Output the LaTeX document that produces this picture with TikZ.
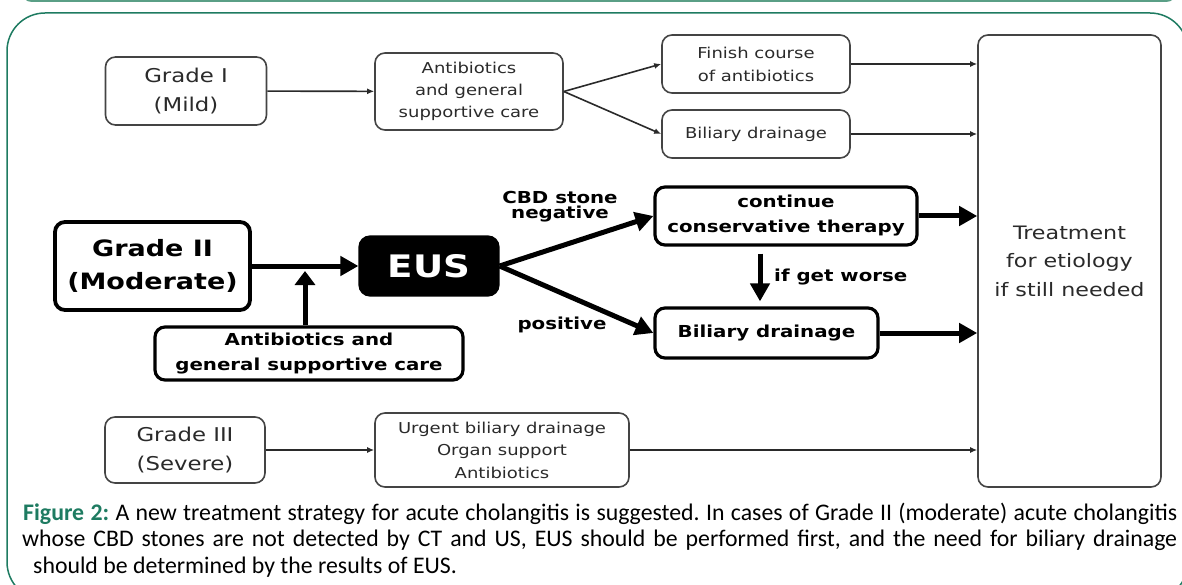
\documentclass[tikz,border=0pt]{standalone}
\usepackage{fontspec}
\usepackage{xcolor}
\usepackage{tikz}
\usetikzlibrary{arrows.meta, calc}
\newfontfamily\diagfont[FakeStretch=1.2]{DejaVu Sans}
\newfontfamily\capfont{Carlito}
\definecolor{framegreen}{HTML}{1E7B61}
\definecolor{bandfill}{HTML}{E4ECE8}
\definecolor{bandline}{HTML}{5A9F86}
\definecolor{boxgray}{HTML}{444444}
\definecolor{textgray}{HTML}{2A2A2A}
\frenchspacing

\tikzset{
  thinbox/.style={draw=boxgray, line width=1.6pt, rounded corners=10pt, align=center,
    inner sep=0pt, text=textgray},
  boldbox/.style={draw=black, line width=3.2pt, rounded corners=10pt, align=center,
    inner sep=0pt, text=black},
  thinarrow/.style={draw=textgray, line width=1.6pt, -{Latex[length=7pt,width=6pt]}},
  boldarrow/.style={draw=black, line width=5pt, -{Triangle[length=18pt,width=19pt]}},
  edgelabel/.style={inner sep=0pt, align=center,
    font=\diagfont\bfseries\fontsize{16.5}{15}\selectfont}
}

\begin{document}
\begin{tikzpicture}[x=1pt, y=-1pt]
    \useasboundingbox (0,0) rectangle (1182,585);
    % frame and caption
    \draw[fill=bandfill, draw=bandline, line width=2pt, rounded corners=10pt]
      (22,-40) rectangle (1176,1);
    \draw[draw=framegreen, line width=1.5pt, rounded corners=38pt]
      (7,13) rectangle (1188,600);

    % grade I
    \node[thinbox, minimum width=161pt, minimum height=68pt,
          font=\diagfont\fontsize{19}{29}\selectfont] (grade1) at (186,91) {Grade I\\(Mild)};
    \node[thinbox, minimum width=188pt, minimum height=77pt,
          font=\diagfont\fontsize{15}{22}\selectfont] (abx1) at (469,91.5)
          {Antibiotics\\and general\\supportive care};
    \node[thinbox, minimum width=188pt, minimum height=58pt,
          font=\diagfont\fontsize{15}{23}\selectfont] (finish) at (756,64)
          {Finish course\\of antibiotics};
    \node[thinbox, minimum width=188pt, minimum height=48pt,
          font=\diagfont\fontsize{15}{22}\selectfont] (drain1) at (756,134) {Biliary drainage};
    \node[thinbox, minimum width=183pt, minimum height=452pt,
          font=\diagfont\fontsize{18.5}{28.5}\selectfont] (treat) at (1069.5,261)
          {Treatment\\for etiology\\if still needed};

    % grade II
    \node[boldbox, line width=3.8pt, minimum width=195pt, minimum height=88pt,
          font=\diagfont\bfseries\fontsize{22.5}{33}\selectfont] (grade2) at (152.5,266)
          {Grade II\\(Moderate)};
    \node[boldbox, fill=black, text=white, minimum width=138pt, minimum height=58pt,
          font=\diagfont\bfseries\fontsize{31}{36}\selectfont] (eus) at (429,266) {EUS};
    \node[boldbox, minimum width=308pt, minimum height=53pt,
          font=\diagfont\bfseries\fontsize{16.5}{25}\selectfont] (abx2) at (309,353.5)
          {Antibiotics and\\general supportive care};
    \node[boldbox, minimum width=262pt, minimum height=58pt,
          font=\diagfont\bfseries\fontsize{16.5}{25}\selectfont] (conserv) at (786,216)
          {continue\\conservative therapy};
    \node[boldbox, minimum width=223pt, minimum height=50pt,
          font=\diagfont\bfseries\fontsize{16.5}{25}\selectfont] (drain2) at (766.5,333)
          {Biliary drainage};

    % grade III
    \node[thinbox, minimum width=160pt, minimum height=66pt,
          font=\diagfont\fontsize{19}{29}\selectfont] (grade3) at (185,450) {Grade III\\(Severe)};
    \node[thinbox, minimum width=254pt, minimum height=74pt,
          font=\diagfont\fontsize{15}{22.5}\selectfont] (urgent) at (502,450)
          {Urgent biliary drainage\\Organ support\\Antibiotics};

    \coordinate (join) at (305,266);
    \coordinate (worse) at (760,277);
    \node[edgelabel] (negative) at (560,207) {CBD stone\\negative};
    \node[edgelabel] (positive) at (562,325) {positive};
    \node[edgelabel, anchor=west] (worselabel) at (774,277) {if get worse};

    % connectors
    \draw[thinarrow] (grade1) -- (abx1);
    \draw[thinarrow] (abx1.east) -- (finish.west);
    \draw[thinarrow] (abx1.east) -- (drain1.west);
    \draw[thinarrow] (finish.east) -- (finish.east -| treat.west);
    \draw[thinarrow] (drain1.east) -- (drain1.east -| treat.west);
    \draw[boldarrow] (grade2) -- (eus);
    \draw[boldarrow, -{Triangle[length=14pt,width=20pt]}] (abx2.north -| join) -- ([yshift=-5pt]join);
    \draw[boldarrow] (eus.east) -- (conserv.west);
    \draw[boldarrow] (eus.east) -- (drain2.west);
    \draw[boldarrow, shorten <=7pt, shorten >=5pt] (conserv.south -| worse) -- (drain2.north -| worse);
    \draw[boldarrow] (conserv.east) -- (conserv.east -| treat.west);
    \draw[boldarrow] (drain2.east) -- (drain2.east -| treat.west);
    \draw[thinarrow] (grade3) -- (urgent);
    \draw[thinarrow] (urgent.east) -- (urgent.east -| treat.west);

    \node[anchor=base west, inner sep=0pt, font=\capfont\fontsize{23.8}{26}\selectfont] (capline1) at (23,520)
      {\makebox[1154pt][s]{\textcolor{framegreen}{\bfseries Figure 2:} A new treatment strategy for acute cholangitis is suggested. In cases of Grade II (moderate) acute cholangitis}};
    \node[anchor=base west, inner sep=0pt, font=\capfont\fontsize{23.8}{26}\selectfont] (capline2) at (22,546.5)
      {\makebox[1155pt][s]{whose CBD stones are not detected by CT and US, EUS should be performed first, and the need for biliary drainage}};
    \node[anchor=base west, inner sep=0pt, font=\capfont\fontsize{23.8}{26}\selectfont] (capline3) at (33,573)
      {should be determined by the results of EUS.};
  \end{tikzpicture}
\end{document}
